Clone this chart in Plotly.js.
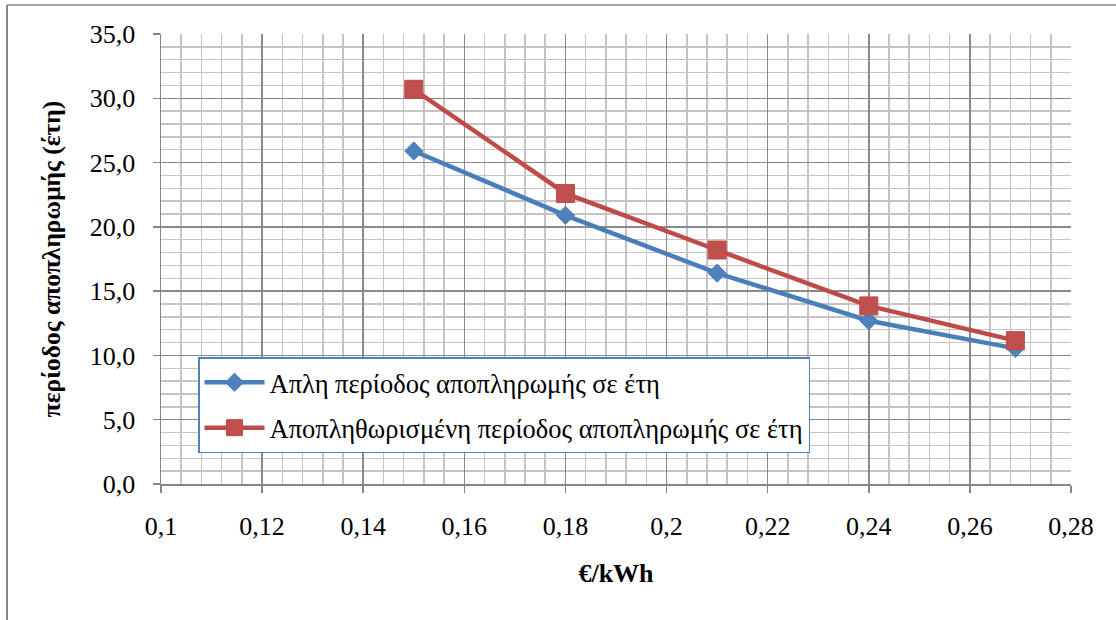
<!DOCTYPE html>
<html>
<head>
<meta charset="utf-8">
<script src="https://cdn.plot.ly/plotly-3.0.1.min.js"></script>
<style>
html,body{margin:0;padding:0;background:#fff;}
#chart{width:1116px;height:620px;}
</style>
</head>
<body>
<div id="chart"></div>
<script>
// Data
const priceKWh = [0.15, 0.18, 0.21, 0.24, 0.269];
const simplePayback = [25.9, 20.9, 16.4, 12.7, 10.55];
const discountedPayback = [30.7, 22.6, 18.2, 13.85, 11.15];
const seriesNames = [
  "Απλη περίοδος αποπληρωμής σε έτη",
  "Αποπληθωρισμένη περίοδος αποπληρωμής σε έτη"
];
const xTickVals = [0.1, 0.12, 0.14, 0.16, 0.18, 0.2, 0.22, 0.24, 0.26, 0.28];
const xTickText = ["0,1", "0,12", "0,14", "0,16", "0,18", "0,2", "0,22", "0,24", "0,26", "0,28"];
const yTickVals = [0, 5, 10, 15, 20, 25, 30, 35];
const yTickText = ["0,0", "5,0", "10,0", "15,0", "20,0", "25,0", "30,0", "35,0"];
const xTitle = "€/kWh";
const yTitle = "περίοδος αποπληρωμής (έτη)";

const FONT = "Liberation Serif, Times New Roman, serif";
const BLUE = "#4A7EBB";
const RED = "#BE4B48";

const traces = [
  {
    x: priceKWh, y: simplePayback, name: seriesNames[0],
    type: "scatter", mode: "lines+markers", legendgroup: "a",
    line: {color: BLUE, width: 4.5},
    marker: {symbol: "diamond", size: 14, color: "#4F81BD", line: {color: BLUE, width: 1}}
  },
  {
    x: priceKWh, y: discountedPayback, name: seriesNames[1],
    type: "scatter", mode: "lines+markers", legendgroup: "b",
    line: {color: RED, width: 4.5},
    marker: {symbol: "square", size: 18, color: "#C0504D", line: {color: RED, width: 1}}
  }
];

const L = 161, R = 1071, T = 34, B = 484, W = 1116, H = 620;
const pw = R - L, ph = B - T;
const px = v => (v - L) / pw;
const py = v => (B - v) / ph;

const layout = {
  width: W, height: H,
  margin: {l: L, r: W - R, t: T, b: H - B, pad: 0},
  paper_bgcolor: "#ffffff",
  plot_bgcolor: "#ffffff",
  font: {family: FONT, size: 26, color: "#000"},
  showlegend: true,
  xaxis: {
    range: [0.1, 0.28],
    tickvals: xTickVals, ticktext: xTickText,
    ticks: "outside", ticklen: 7, tickwidth: 1.5, tickcolor: "#868686",
    ticklabelstandoff: 11,
    showline: true, linecolor: "#868686", linewidth: 1.5,
    showgrid: true, gridcolor: "#8a8a8a", gridwidth: 1.5,
    minor: {dtick: 0.004, showgrid: true, gridcolor: "#c4c4c4", gridwidth: 1.5, ticks: ""},
    zeroline: false, mirror: false,
    tickfont: {family: FONT, size: 26, color: "#000"},
    title: {text: xTitle, font: {family: FONT, size: 26, color: "#000", weight: "bold"}, standoff: 24}
  },
  yaxis: {
    range: [0, 35],
    tickvals: yTickVals, ticktext: yTickText,
    ticks: "outside", ticklen: 7, tickwidth: 1.5, tickcolor: "#868686",
    ticklabelstandoff: 12,
    showline: true, linecolor: "#868686", linewidth: 1.5,
    showgrid: true, gridcolor: "#8a8a8a", gridwidth: 1.5,
    minor: {dtick: 1, showgrid: true, gridcolor: "#c4c4c4", gridwidth: 1.5, ticks: ""},
    zeroline: false,
    tickfont: {family: FONT, size: 26, color: "#000"},
    title: {text: yTitle, font: {family: FONT, size: 25.5, color: "#000", weight: "bold"}, standoff: 22}
  },
  legend: {
    x: px(198), y: py(357), xanchor: "left", yanchor: "top",
    bgcolor: "#ffffff", bordercolor: "#4F81BD", borderwidth: 1.5,
    font: {family: FONT, size: 26.5, color: "#000"},
    traceorder: "grouped", tracegroupgap: 8,
    itemwidth: 60
  },
  shapes: [
    {type: "line", xref: "paper", yref: "paper", x0: px(7), x1: px(1120), y0: py(5), y1: py(5),
     line: {color: "#868686", width: 1.5}},
    {type: "line", xref: "paper", yref: "paper", x0: px(7), x1: px(7), y0: py(5), y1: py(625),
     line: {color: "#868686", width: 2}}
  ]
};

Plotly.newPlot("chart", traces, layout, {displayModeBar: false, staticPlot: true});
</script>
</body>
</html>
